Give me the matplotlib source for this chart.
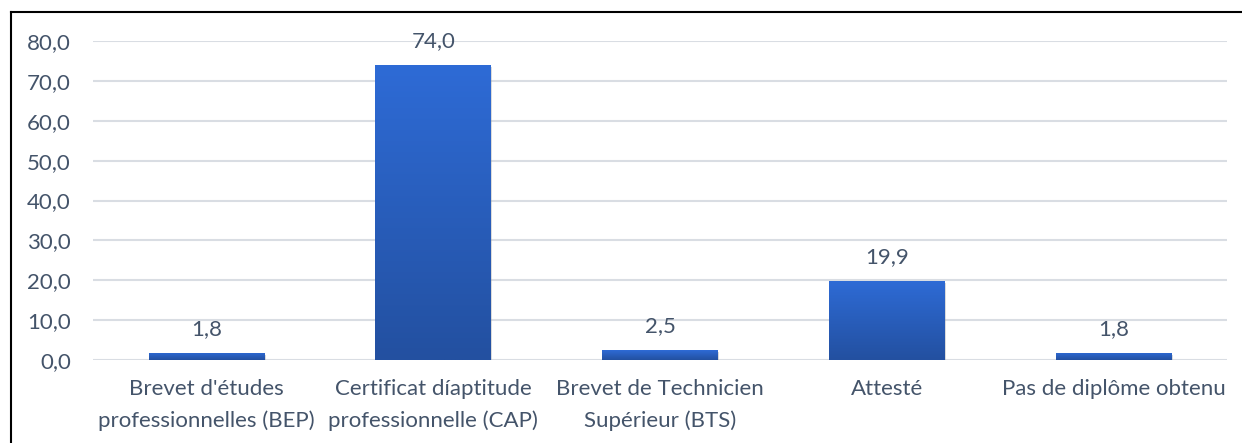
import matplotlib
matplotlib.use("Agg")
import matplotlib.pyplot as plt
import numpy as np
from matplotlib.colors import LinearSegmentedColormap
import matplotlib.patheffects as pe

categories = ["Brevet d'études\nprofessionnelles (BEP)",
              "Certificat díaptitude\nprofessionnelle (CAP)",
              "Brevet de Technicien\nSupérieur (BTS)",
              "Attesté",
              "Pas de diplôme obtenu"]
values = [1.8, 74.0, 2.5, 19.9, 1.8]
yticks = [0, 10, 20, 30, 40, 50, 60, 70, 80]

plt.rcParams['font.family'] = ['Lato', 'DejaVu Sans']
text_color = '#44546A'
fs = 16

fig = plt.figure(figsize=(12.42, 4.43), dpi=100)
ax = fig.add_axes([93/1242, 1 - 360/443, (1227-93)/1242, (360-41)/443])

x = np.arange(len(categories))
bars = ax.bar(x, values, width=0.51, color='#2A5EC0', zorder=3,
              path_effects=[pe.SimplePatchShadow(offset=(1, -1.5), shadow_rgbFace='#999999', alpha=0.35), pe.Normal()])

cmap = LinearSegmentedColormap.from_list('g', ['#2350A0', '#2E6BD6'])
grad = np.linspace(0, 1, 256).reshape(-1, 1)
for b in bars:
    x0, y0 = b.get_x(), b.get_y()
    w, h = b.get_width(), b.get_height()
    im = ax.imshow(grad, cmap=cmap, origin='lower', aspect='auto',
                   extent=[x0, x0 + w, y0, y0 + h], zorder=4)
    im.set_clip_path(b)

for xi, v in zip(x, values):
    ax.annotate(f"{v:.1f}".replace('.', ','), (xi, v), xytext=(0, 10),
                textcoords='offset points', ha='center', va='bottom',
                fontsize=fs, color=text_color, zorder=5)

ax.set_xlim(-0.5, len(categories) - 0.5)
ax.set_ylim(0, 80)
ax.set_yticks(yticks)
ax.set_yticklabels([f"{t:.1f}".replace('.', ',') for t in yticks])
ax.set_xticks(x)
ax.set_xticklabels(categories, linespacing=1.65)
ax.tick_params(axis='both', length=0, labelsize=fs, labelcolor=text_color)
ax.tick_params(axis='y', pad=16)
ax.tick_params(axis='x', pad=14)
ax.grid(axis='y', color='#D9DDE3', linewidth=1.5, zorder=0)
for s in ax.spines.values():
    s.set_visible(False)
ax.set_axisbelow(True)

# outer border (left and top)
fig.add_artist(plt.Line2D([11/1242, 11/1242], [0, 1 - 12/443], color='black', linewidth=1.5, transform=fig.transFigure))
fig.add_artist(plt.Line2D([11/1242, 1], [1 - 12/443, 1 - 12/443], color='black', linewidth=1.5, transform=fig.transFigure))

fig.savefig('out.png', dpi=100)
